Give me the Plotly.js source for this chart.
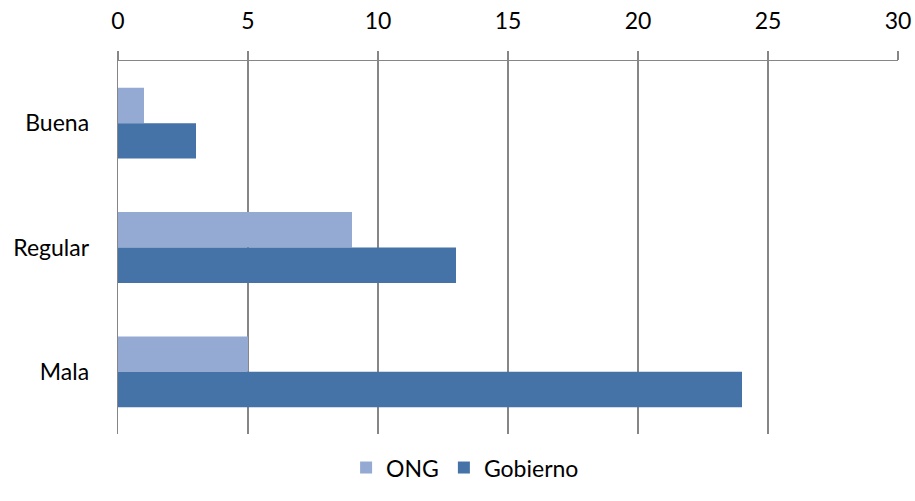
<!DOCTYPE html>
<html>
<head>
<meta charset="utf-8">
<script src="https://cdn.plot.ly/plotly-3.0.1.min.js"></script>
<style>html,body{margin:0;padding:0;background:#fff;}#chart{width:915px;height:501px;}</style>
</head>
<body>
<div id="chart"></div>
<script>
const categories = ["Buena", "Regular", "Mala"];
const ongValues = [1, 9, 5];
const gobiernoValues = [3, 13, 24];
const xTicks = [0, 5, 10, 15, 20, 25, 30];

const traces = [
  {type: 'bar', orientation: 'h', name: 'ONG', y: categories, x: ongValues,
   marker: {color: '#95AAD2'}},
  {type: 'bar', orientation: 'h', name: 'Gobierno', y: categories, x: gobiernoValues,
   marker: {color: '#4572A7'}}
];

const layout = {
  width: 915, height: 501,
  margin: {l: 118, r: 17, t: 61, b: 67},
  paper_bgcolor: '#ffffff', plot_bgcolor: '#ffffff',
  font: {family: 'Lato, "Open Sans", sans-serif', size: 23, color: '#000000'},
  barmode: 'group', bargap: 0.43, bargroupgap: 0,
  showlegend: true,
  legend: {orientation: 'h', x: 0.445, xanchor: 'center', y: -0.09, yanchor: 'middle',
           font: {size: 23}, traceorder: 'normal', itemwidth: 30},
  xaxis: {
    side: 'top', range: [0, 30], tickvals: xTicks, ticktext: xTicks.map(String),
    showgrid: true, gridcolor: '#868686', gridwidth: 1.3,
    showline: true, linecolor: '#868686', linewidth: 1.3,
    ticks: 'outside', ticklen: 9, tickcolor: '#868686', tickwidth: 1.3,
    zeroline: false, fixedrange: true, ticklabelstandoff: 13
  },
  yaxis: {
    type: 'category', categoryorder: 'array', categoryarray: categories,
    autorange: 'reversed',
    showline: true, linecolor: '#868686', linewidth: 1.3,
    showgrid: false, ticks: '', zeroline: false, ticklabelstandoff: 23
  }
};

Plotly.newPlot('chart', traces, layout, {displayModeBar: false, staticPlot: true});
</script>
</body>
</html>
